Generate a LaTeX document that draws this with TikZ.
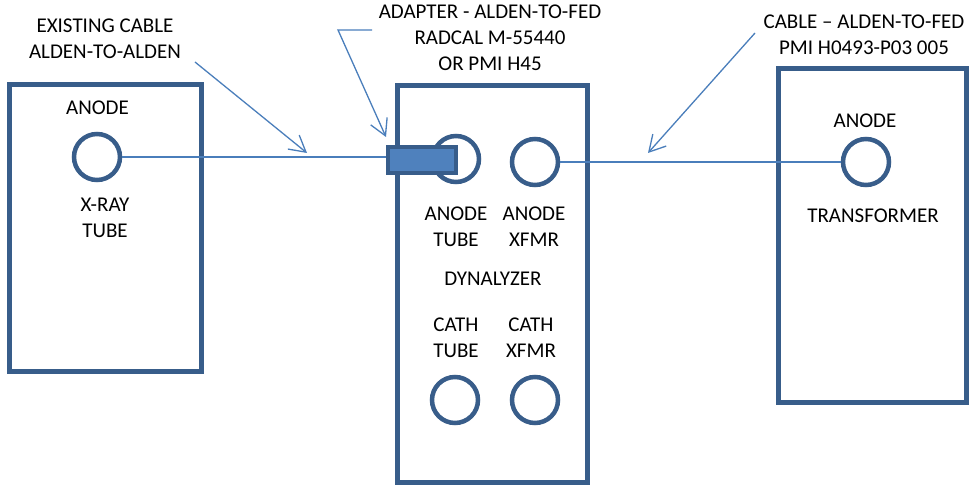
\documentclass[tikz,border=0pt]{standalone}
\usepackage{fontspec}
\setmainfont{Carlito}
\usetikzlibrary{arrows.meta}

\definecolor{boxblue}{HTML}{385D8A}
\definecolor{lineblue}{HTML}{4A7EBB}
\definecolor{plugblue}{HTML}{4F81BD}

\begin{document}
\begin{tikzpicture}[
        x = 1pt, y = -1pt,
        >= {Straight Barb[length = 16pt, width = 18pt]},
        every node/.style = {inner sep = 0pt, align = center, font = \fontsize{21}{26}\selectfont},
        unit/.style 2 args = {draw = boxblue, line width = 5pt, minimum width = #1, minimum height = #2},
        socket/.style = {circle, draw = boxblue, line width = 4.5pt, minimum size = 46pt},
        plug/.style = {draw = boxblue, fill = plugblue, line width = 4pt, minimum width = 68pt, minimum height = 26pt},
        cable/.style = {draw = lineblue, line width = 1.5pt},
        callout/.style = {draw = lineblue, line width = 1.3pt, ->}
    ]

      \useasboundingbox (0,0) rectangle (970,486);

      % the three units
      \node[unit = {192pt}{287pt}] (tube) at (105.5,228.5) {};
      \node[unit = {190pt}{396pt}] (dyn) at (492,284) {};
      \node[unit = {188pt}{334pt}] (xfmr) at (872,236) {};

      % sockets
      \node[socket] (tube_a) at (97,157) {};
      \node[socket] (dyn_at) at (456,159) {};
      \node[socket] (dyn_ax) at (535,162) {};
      \node[socket] (dyn_ct) at (455,400) {};
      \node[socket] (dyn_cx) at (535,400) {};
      \node[socket] (xfmr_a) at (866,162) {};

      \node[plug] (adapter) at (422,160) {};

      % texts inside the units
      \node (t_anode) at (97.5,108) {ANODE};
      \node (t_xray) at (105,218) {X-RAY\\TUBE};
      \node (t_at) at (456,227) {ANODE\\TUBE};
      \node (t_ax) at (534,227) {ANODE\\XFMR};
      \node (t_dyn) at (493,279) {DYNALYZER};
      \node (t_ct) at (456,338) {CATH\\TUBE};
      \node (t_cx) at (531,338) {CATH\\XFMR};
      \node (t_xanode) at (865,121) {ANODE};
      \node (t_trans) at (873,216) {TRANSFORMER};

      % callout texts
      \node (l_exist) at (105,39) {EXISTING CABLE\\ALDEN-TO-ALDEN};
      \node (l_adapt) at (490,38) {ADAPTER - ALDEN-TO-FED\\RADCAL M-55440\\OR PMI H45};
      \node (l_cable) at (864,35) {CABLE -- ALDEN-TO-FED\\PMI H0493-P03 005};

      % cables
      \draw[cable] (tube_a.east) -- (adapter.west |- tube_a.east);
      \draw[cable] (dyn_ax.east) -- (xfmr_a.west);

      % callout arrows
      \coordinate (c_exist) at (195,62);
      \coordinate (p_exist) at (307,153);
      \coordinate (c_adapt) at (372,30);
      \coordinate (b_adapt) at (338,30);
      \coordinate (p_adapt) at (386,137);
      \coordinate (c_cable) at (755,33);
      \coordinate (p_cable) at (648,153);

      \draw[callout] (c_exist) -- (p_exist);
      \draw[callout] (c_adapt) -- (b_adapt) -- (p_adapt);
      \draw[callout] (c_cable) -- (p_cable);

    \end{tikzpicture}
\end{document}
